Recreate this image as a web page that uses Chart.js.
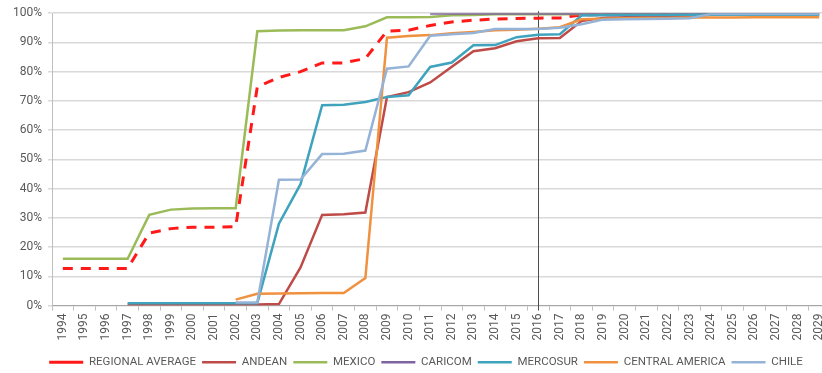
<!DOCTYPE html>
<html>
<head>
<meta charset="utf-8">
<script src="https://cdn.jsdelivr.net/npm/chart.js@4"></script>
<style>
  html, body { margin: 0; padding: 0; background: #ffffff; overflow: hidden; }
  #wrap { width: 852px; height: 373px; }
</style>
</head>
<body>
<div id="wrap"><canvas id="chart" width="852" height="373"></canvas></div>
<script>
// Years on the category axis
const years = [
  '1994','1995','1996','1997','1998','1999','2000','2001','2002','2003',
  '2004','2005','2006','2007','2008','2009','2010','2011','2012','2013',
  '2014','2015','2016','2017','2018','2019','2020','2021','2022','2023',
  '2024','2025','2026','2027','2028','2029'
];

// Y-axis tick values (percent)
const yTicks = [0, 10, 20, 30, 40, 50, 60, 70, 80, 90, 100];

// Share per region, percent, one value per year (null = no data)
const regionalAverage = [12.7, 12.7, 12.7, 12.7, 24.8, 26.3, 26.8, 26.8, 27.0, 74.8,
  78.0, 80.0, 83.0, 83.0, 84.5, 93.9, 94.2, 95.8, 97.0, 97.6,
  98.0, 98.2, 98.3, 98.4, 99.4, 99.5, 99.5, 99.5, 99.5, 99.6,
  99.6, 99.7, 99.7, 99.7, 99.7, 99.7];

const andean = [null, null, null, 0.3, 0.3, 0.3, 0.3, 0.3, 0.3, 0.3,
  0.5, 13.0, 31.0, 31.2, 31.8, 71.3, 73.0, 76.3, 81.7, 87.0,
  88.0, 90.4, 91.4, 91.5, 97.3, 98.4, 98.6, 98.7, 98.8, 98.9,
  99.5, 99.5, 99.5, 99.5, 99.5, 99.5];

const mexico = [16.0, 16.0, 16.0, 16.0, 31.0, 32.8, 33.2, 33.3, 33.3, 93.8,
  94.1, 94.2, 94.2, 94.2, 95.5, 98.6, 98.6, 98.7, 99.3, 99.4,
  99.6, 99.6, 99.6, 99.6, 99.7, 99.7, 99.7, 99.7, 99.7, 99.7,
  99.8, 99.8, 99.8, 99.8, 99.8, 99.8];

const caricom = [null, null, null, null, null, null, null, null, null, null,
  null, null, null, null, null, null, null, 99.9, 99.9, 99.9,
  99.9, 99.9, 99.9, 99.9, 99.9, 99.9, 99.9, 99.9, 99.9, 99.9,
  99.9, 99.9, 99.9, 99.9, 99.9, 99.9];

const mercosur = [null, null, null, 0.8, 0.8, 0.8, 0.8, 0.8, 0.8, 0.8,
  28.0, 41.5, 68.5, 68.7, 69.6, 71.3, 71.9, 81.6, 83.1, 89.0,
  89.1, 91.8, 92.6, 92.8, 99.2, 99.3, 99.4, 99.4, 99.4, 99.5,
  99.5, 99.5, 99.5, 99.5, 99.5, 99.5];

const centralAmerica = [null, null, null, null, null, null, null, null, 2.0, 4.0,
  4.1, 4.2, 4.3, 4.3, 9.4, 91.6, 92.2, 92.5, 93.1, 93.6,
  94.2, 94.3, 94.7, 95.2, 97.9, 98.1, 98.3, 98.4, 98.4, 98.5,
  98.5, 98.5, 98.6, 98.6, 98.6, 98.6];

const chile = [null, null, null, null, null, null, null, null, 1.0, 1.0,
  43.0, 43.1, 51.8, 51.9, 53.0, 81.0, 81.8, 92.3, 92.8, 93.2,
  94.6, 94.6, 94.6, 95.0, 96.2, 97.8, 97.9, 98.0, 98.1, 98.3,
  99.7, 99.7, 99.7, 99.7, 99.7, 99.7];

// Year marked with a vertical reference line
const markerYear = '2016';

const textColor = '#595959';
const baseFont = { family: 'Roboto, "Liberation Sans", sans-serif', size: 12 };

function series(label, data, color, extra) {
  return Object.assign({
    label: label,
    data: data,
    borderColor: color,
    backgroundColor: color,
    borderWidth: 2.5,
    pointRadius: 0,
    pointHoverRadius: 0,
    tension: 0,
    fill: false,
    spanGaps: false
  }, extra || {});
}

// Later series sit on top of earlier ones
const datasets = [
  series('REGIONAL AVERAGE', regionalAverage, '#ff1a1a', { borderDash: [10, 8], borderWidth: 3, order: 6 }),
  series('ANDEAN', andean, '#be4b48', { order: 5 }),
  series('MEXICO', mexico, '#9bbb59', { order: 4 }),
  series('CARICOM', caricom, '#8064a2', { order: 3 }),
  series('MERCOSUR', mercosur, '#3fa3bd', { order: 2 }),
  series('CENTRAL AMERICA', centralAmerica, '#f0913f', { order: 1 }),
  series('CHILE', chile, '#95b3d7', { order: 0 })
];

// Vertical reference line at the marker year
const markerLine = {
  id: 'markerLine',
  beforeDatasetsDraw(chart) {
    const xs = chart.scales.x;
    const area = chart.chartArea;
    const x = Math.round(xs.getPixelForValue(years.indexOf(markerYear))) + 0.5;
    const ctx = chart.ctx;
    ctx.save();
    ctx.strokeStyle = '#4d4d4d';
    ctx.lineWidth = 1;
    ctx.beginPath();
    ctx.moveTo(x, area.top - 2);
    ctx.lineTo(x, area.bottom + 5);
    ctx.stroke();
    ctx.restore();
  }
};

// Nudge the legend row so it is centred under the whole figure
const legendShift = {
  id: 'legendShift',
  afterLayout(chart) {
    if (chart.legend) {
      chart.legend.left += 6;
      chart.legend.right += 6;
    }
  }
};

new Chart(document.getElementById('chart'), {
  type: 'line',
  data: { labels: years, datasets: datasets },
  plugins: [markerLine, legendShift],
  options: {
    responsive: false,
    animation: false,
    devicePixelRatio: 1,
    layout: { padding: { left: 10, right: 22, top: 11, bottom: -5 } },
    plugins: {
      tooltip: { enabled: false },
      legend: {
        position: 'bottom',
        labels: {
          usePointStyle: true,
          pointStyle: 'line',
          pointStyleWidth: 34,
          padding: 6,
          color: textColor,
          font: { family: baseFont.family, size: 11.5 },
          sort: (a, b) => a.datasetIndex - b.datasetIndex
        }
      }
    },
    scales: {
      x: {
        type: 'category',
        offset: true,
        grid: {
          display: true,
          drawOnChartArea: false,
          offset: true,
          tickLength: 5,
          color: '#bfbfbf'
        },
        border: { color: '#a6a6a6', width: 1 },
        ticks: {
          autoSkip: false,
          minRotation: 90,
          maxRotation: 90,
          padding: 3,
          color: textColor,
          font: baseFont
        },
        afterFit(scale) { scale.height = 45; }
      },
      y: {
        min: 0,
        max: 100,
        afterBuildTicks(scale) { scale.ticks = yTicks.map(v => ({ value: v })); },
        grid: { color: '#d9d9d9', lineWidth: 1.5, tickLength: 4 },
        border: { color: '#bfbfbf', width: 1 },
        ticks: {
          padding: 6,
          color: textColor,
          font: baseFont,
          callback: v => v + '%'
        },
        afterFit(scale) { scale.width = 42; }
      }
    }
  }
});
</script>
</body>
</html>
